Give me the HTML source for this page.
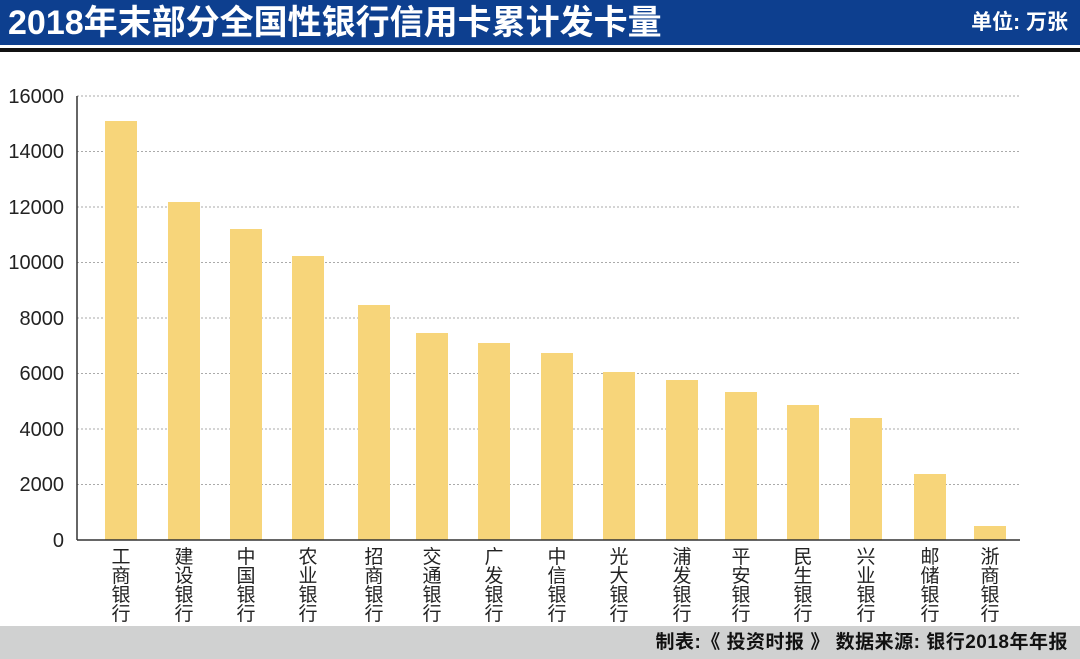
<!DOCTYPE html><html><head><meta charset="utf-8"><style>
body{margin:0;width:1080px;height:659px;overflow:hidden;background:#fff;font-family:"Liberation Sans","Noto Sans CJK SC",sans-serif;position:relative}
.hdr{position:absolute;left:0;top:0;width:1080px;height:45px;background:#0d3f8f}
.t{position:absolute;left:8px;top:1px;color:#fff;font-size:34px;font-weight:bold;line-height:44px}
.u{position:absolute;right:12px;top:0;color:#fff;font-size:21px;font-weight:bold;line-height:45px}
.ln{position:absolute;left:0;top:48px;width:1080px;height:4px;background:#111}
.ft{position:absolute;left:0;top:626px;width:1080px;height:33px;background:#d0d1d1}
.ft span{position:absolute;right:12px;top:0;line-height:33px;font-size:19px;color:#111;font-weight:bold;letter-spacing:0.5px}
</style></head><body>
<div class="hdr"><div class="t">2018年末部分全国性银行信用卡累计发卡量</div><div class="u">单位: 万张</div></div>
<div class="ln"></div>
<svg width="1080" height="659" style="position:absolute;left:0;top:0" font-family="Liberation Sans, Noto Sans CJK SC, sans-serif">
<g stroke="#aaa" stroke-dasharray="2,2" stroke-width="1">
<line x1="77" x2="1020" y1="96" y2="96"/><line x1="77" x2="1020" y1="151.5" y2="151.5"/><line x1="77" x2="1020" y1="207" y2="207"/><line x1="77" x2="1020" y1="262.5" y2="262.5"/><line x1="77" x2="1020" y1="318" y2="318"/><line x1="77" x2="1020" y1="373.5" y2="373.5"/><line x1="77" x2="1020" y1="429" y2="429"/><line x1="77" x2="1020" y1="484.5" y2="484.5"/>
</g>
<g font-size="20" fill="#222" text-anchor="end">
<text x="64" y="103">16000</text><text x="64" y="158">14000</text><text x="64" y="214">12000</text><text x="64" y="269">10000</text><text x="64" y="325">8000</text><text x="64" y="380">6000</text><text x="64" y="436">4000</text><text x="64" y="491">2000</text><text x="64" y="547">0</text>
</g>
<g fill="#f7d57a">
<rect x="105" y="121" width="32" height="419"/><rect x="168" y="202" width="32" height="338"/><rect x="230" y="229" width="32" height="311"/><rect x="292" y="256" width="32" height="284"/><rect x="358" y="305" width="32" height="235"/><rect x="416" y="333" width="32" height="207"/><rect x="478" y="343" width="32" height="197"/><rect x="541" y="353" width="32" height="187"/><rect x="603" y="372" width="32" height="168"/><rect x="666" y="380" width="32" height="160"/><rect x="725" y="392" width="32" height="148"/><rect x="787" y="405" width="32" height="135"/><rect x="850" y="418" width="32" height="122"/><rect x="914" y="474" width="32" height="66"/><rect x="974" y="526" width="32" height="14"/>
</g>
<line x1="77" x2="1020" y1="540" y2="540" stroke="#333" stroke-width="1.5"/>
<line x1="77" x2="77" y1="96" y2="540" stroke="#333" stroke-width="1.5"/>
<g font-size="19" fill="#222" text-anchor="middle">
<text x="121" y="563">工</text><text x="121" y="582">商</text><text x="121" y="601">银</text><text x="121" y="620">行</text>
<text x="184" y="563">建</text><text x="184" y="582">设</text><text x="184" y="601">银</text><text x="184" y="620">行</text>
<text x="246" y="563">中</text><text x="246" y="582">国</text><text x="246" y="601">银</text><text x="246" y="620">行</text>
<text x="308" y="563">农</text><text x="308" y="582">业</text><text x="308" y="601">银</text><text x="308" y="620">行</text>
<text x="374" y="563">招</text><text x="374" y="582">商</text><text x="374" y="601">银</text><text x="374" y="620">行</text>
<text x="432" y="563">交</text><text x="432" y="582">通</text><text x="432" y="601">银</text><text x="432" y="620">行</text>
<text x="494" y="563">广</text><text x="494" y="582">发</text><text x="494" y="601">银</text><text x="494" y="620">行</text>
<text x="557" y="563">中</text><text x="557" y="582">信</text><text x="557" y="601">银</text><text x="557" y="620">行</text>
<text x="619" y="563">光</text><text x="619" y="582">大</text><text x="619" y="601">银</text><text x="619" y="620">行</text>
<text x="682" y="563">浦</text><text x="682" y="582">发</text><text x="682" y="601">银</text><text x="682" y="620">行</text>
<text x="741" y="563">平</text><text x="741" y="582">安</text><text x="741" y="601">银</text><text x="741" y="620">行</text>
<text x="803" y="563">民</text><text x="803" y="582">生</text><text x="803" y="601">银</text><text x="803" y="620">行</text>
<text x="866" y="563">兴</text><text x="866" y="582">业</text><text x="866" y="601">银</text><text x="866" y="620">行</text>
<text x="930" y="563">邮</text><text x="930" y="582">储</text><text x="930" y="601">银</text><text x="930" y="620">行</text>
<text x="990" y="563">浙</text><text x="990" y="582">商</text><text x="990" y="601">银</text><text x="990" y="620">行</text>
</g>
</svg>
<div class="ft"><span>制表:《 投资时报 》 数据来源: 银行2018年年报</span></div>
</body></html>
